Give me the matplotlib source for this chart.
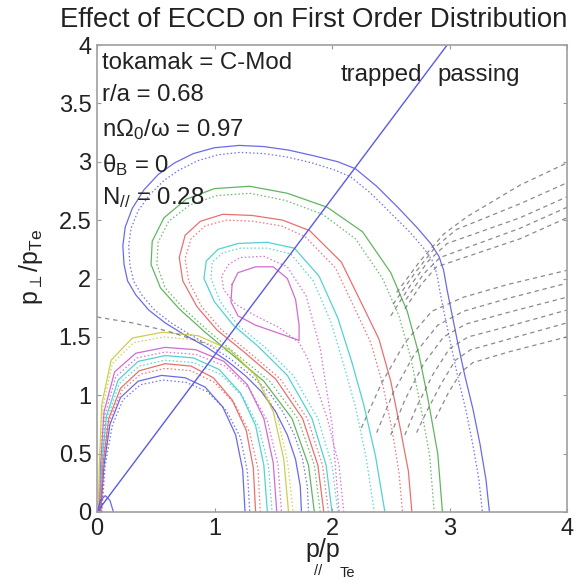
import matplotlib

matplotlib.use("Agg")

import matplotlib.pyplot as plt
import numpy as np

plt.rcParams["font.family"] = ["Liberation Sans", "DejaVu Sans"]
plt.rcParams["mathtext.fontset"] = "custom"
plt.rcParams["mathtext.rm"] = "Liberation Sans"
plt.rcParams["mathtext.default"] = "regular"

COLORS = {
    "b": "#5a5ae6",
    "g": "#4fae4f",
    "r": "#e66060",
    "c": "#40cccc",
    "m": "#cc5ccc",
    "y": "#c8c83c",
    "k": "#6e6e6e",
}

# trapped/passing boundary p_perp = 1.343 p_par
BOUNDARY_X = [0.0, 2.98]
BOUNDARY_Y = [0.0, 4.0]

# outer lobe, solid contours (foot on axis -> over the top -> foot on axis)
BLUE_ARCH_X = [1.74, 1.73, 1.69, 1.62, 1.52, 1.40, 1.26, 1.10, 0.92, 0.74, 0.58, 0.44, 0.33,
               0.26, 0.23, 0.22, 0.24, 0.30, 0.40, 0.52, 0.66, 0.82, 1.00, 1.21, 1.42, 1.63,
               1.85, 2.05, 2.20, 2.38, 2.56, 2.72, 2.84, 2.91, 2.95, 2.98, 3.02, 3.07, 3.13,
               3.20, 3.26, 3.31, 3.34]
BLUE_ARCH_Y = [0.00, 0.22, 0.45, 0.66, 0.86, 1.03, 1.17, 1.30, 1.42, 1.52, 1.62, 1.73, 1.86,
               1.98, 2.12, 2.28, 2.44, 2.60, 2.76, 2.89, 2.99, 3.07, 3.12, 3.14, 3.13, 3.10,
               3.05, 3.00, 2.94, 2.79, 2.61, 2.44, 2.30, 2.19, 2.07, 1.90, 1.70, 1.45, 1.17,
               0.88, 0.58, 0.28, 0.00]
GREEN_ARCH_X = [1.85, 1.80, 1.66, 1.42, 1.16, 0.92, 0.70, 0.54, 0.46, 0.47, 0.57, 0.76, 1.00,
                1.30, 1.62, 1.96, 2.26, 2.50, 2.64, 2.74, 2.82, 2.90, 2.94]
GREEN_ARCH_Y = [0.00, 0.40, 0.80, 1.12, 1.34, 1.54, 1.74, 1.92, 2.12, 2.32, 2.52, 2.68, 2.77,
                2.79, 2.73, 2.61, 2.40, 2.05, 1.72, 1.35, 0.95, 0.50, 0.00]
RED_ARCH_X = [1.93, 1.88, 1.75, 1.52, 1.24, 1.02, 0.85, 0.73, 0.70, 0.75, 0.88, 1.07, 1.32,
              1.58, 1.81, 2.08, 2.26, 2.40, 2.50, 2.58, 2.65, 2.68]
RED_ARCH_Y = [0.00, 0.40, 0.80, 1.14, 1.38, 1.56, 1.76, 1.98, 2.18, 2.37, 2.49, 2.55, 2.54,
              2.50, 2.41, 2.14, 1.77, 1.48, 1.12, 0.72, 0.35, 0.00]
CYAN_ARCH_X = [2.00, 1.95, 1.83, 1.62, 1.37, 1.16, 1.00, 0.91, 0.93, 1.03, 1.20, 1.45, 1.68,
               1.89, 2.05, 2.17, 2.27, 2.37, 2.45]
CYAN_ARCH_Y = [0.00, 0.40, 0.80, 1.17, 1.42, 1.60, 1.80, 2.00, 2.15, 2.25, 2.30, 2.31, 2.26,
               2.02, 1.66, 1.28, 0.92, 0.48, 0.00]
MAGENTA_LOOP_X = [1.15, 1.20, 1.35, 1.50, 1.62, 1.69, 1.72, 1.72, 1.55, 1.35, 1.20, 1.14, 1.15]
MAGENTA_LOOP_Y = [1.95, 2.05, 2.10, 2.10, 2.00, 1.82, 1.60, 1.47, 1.53, 1.60, 1.68, 1.80, 1.95]

# outer lobe, dotted companions
BLUE_ARCH_DOT_X = [1.80, 1.79, 1.75, 1.68, 1.58, 1.46, 1.31, 1.15, 0.97, 0.79, 0.63, 0.49, 0.38,
                   0.31, 0.28, 0.27, 0.29, 0.35, 0.45, 0.57, 0.70, 0.86, 1.03, 1.22, 1.42, 1.62,
                   1.83, 2.02, 2.16, 2.33, 2.50, 2.66, 2.78, 2.85, 2.89, 2.92, 2.96, 3.01, 3.07,
                   3.14, 3.20, 3.25, 3.28]
BLUE_ARCH_DOT_Y = [0.00, 0.22, 0.45, 0.66, 0.86, 1.03, 1.17, 1.30, 1.42, 1.52, 1.62, 1.73, 1.86,
                   1.98, 2.12, 2.28, 2.43, 2.58, 2.72, 2.84, 2.93, 3.01, 3.06, 3.08, 3.07, 3.04,
                   2.99, 2.93, 2.87, 2.73, 2.56, 2.40, 2.26, 2.16, 2.05, 1.88, 1.68, 1.44, 1.16,
                   0.87, 0.57, 0.28, 0.00]
GREEN_ARCH_DOT_X = [1.90, 1.85, 1.71, 1.47, 1.20, 0.96, 0.74, 0.58, 0.51, 0.52, 0.61, 0.79, 1.02,
                    1.30, 1.60, 1.92, 2.20, 2.43, 2.57, 2.67, 2.75, 2.83, 2.87]
GREEN_ARCH_DOT_Y = [0.00, 0.40, 0.80, 1.12, 1.34, 1.54, 1.74, 1.92, 2.12, 2.31, 2.49, 2.63, 2.71,
                    2.73, 2.67, 2.55, 2.34, 2.00, 1.68, 1.32, 0.93, 0.49, 0.00]
RED_ARCH_DOT_X = [1.97, 1.92, 1.79, 1.56, 1.28, 1.06, 0.89, 0.78, 0.75, 0.80, 0.92, 1.10, 1.33,
                  1.57, 1.77, 2.03, 2.20, 2.33, 2.43, 2.51, 2.57, 2.60]
RED_ARCH_DOT_Y = [0.00, 0.40, 0.80, 1.14, 1.38, 1.56, 1.76, 1.98, 2.17, 2.34, 2.45, 2.50, 2.49,
                  2.45, 2.36, 2.09, 1.73, 1.45, 1.10, 0.71, 0.34, 0.00]
CYAN_ARCH_DOT_X = [2.05, 2.00, 1.88, 1.67, 1.42, 1.20, 1.05, 0.97, 0.98, 1.07, 1.22, 1.45, 1.65,
                   1.84, 1.99, 2.10, 2.20, 2.29, 2.36]
CYAN_ARCH_DOT_Y = [0.00, 0.40, 0.80, 1.17, 1.42, 1.60, 1.80, 2.00, 2.14, 2.22, 2.26, 2.26, 2.21,
                   1.98, 1.63, 1.26, 0.90, 0.47, 0.00]
MAGENTA_ARCH_DOT_X = [2.10, 2.06, 1.96, 1.86, 1.80, 1.72, 1.55, 1.35, 1.18, 1.08, 1.06, 1.12,
                      1.22, 1.42, 1.62, 1.78, 1.90, 2.00, 2.06]
MAGENTA_ARCH_DOT_Y = [0.00, 0.40, 0.80, 1.10, 1.30, 1.45, 1.58, 1.68, 1.78, 1.90, 2.02, 2.12,
                      2.18, 2.19, 2.10, 1.85, 1.40, 0.75, 0.00]

# inner lobe near the origin, solid contours
INNER_BLUE_X = [0.03, 0.06, 0.11, 0.20, 0.35, 0.55, 0.75, 0.92, 1.07, 1.18, 1.24, 1.26]
INNER_BLUE_Y = [0.00, 0.40, 0.75, 0.98, 1.12, 1.17, 1.15, 1.07, 0.90, 0.66, 0.36, 0.00]
INNER_RED_X = [0.03, 0.05, 0.10, 0.20, 0.36, 0.58, 0.80, 0.99, 1.15, 1.27, 1.33, 1.35]
INNER_RED_Y = [0.00, 0.40, 0.80, 1.06, 1.21, 1.27, 1.25, 1.15, 0.96, 0.70, 0.38, 0.00]
INNER_CYAN_X = [0.02, 0.04, 0.08, 0.18, 0.35, 0.58, 0.82, 1.04, 1.22, 1.35, 1.42, 1.45]
INNER_CYAN_Y = [0.00, 0.40, 0.82, 1.13, 1.29, 1.34, 1.32, 1.22, 1.02, 0.74, 0.40, 0.00]
INNER_MAGENTA_X = [0.02, 0.03, 0.06, 0.15, 0.33, 0.58, 0.84, 1.08, 1.28, 1.42, 1.50, 1.53]
INNER_MAGENTA_Y = [0.00, 0.40, 0.86, 1.20, 1.36, 1.41, 1.39, 1.29, 1.09, 0.80, 0.42, 0.00]
INNER_YELLOW_X = [0.01, 0.02, 0.04, 0.12, 0.30, 0.56, 0.86, 1.13, 1.35, 1.50, 1.59, 1.63]
INNER_YELLOW_Y = [0.00, 0.40, 0.92, 1.30, 1.49, 1.54, 1.51, 1.39, 1.17, 0.86, 0.45, 0.00]

# inner lobe, dotted companions
INNER_BLUE_DOT_X = [0.04, 0.07, 0.13, 0.22, 0.37, 0.56, 0.76, 0.94, 1.10, 1.22, 1.28, 1.30]
INNER_BLUE_DOT_Y = [0.00, 0.40, 0.74, 0.96, 1.09, 1.13, 1.11, 1.03, 0.87, 0.64, 0.35, 0.00]
INNER_RED_DOT_X = [0.04, 0.06, 0.11, 0.21, 0.37, 0.58, 0.80, 1.00, 1.17, 1.30, 1.37, 1.39]
INNER_RED_DOT_Y = [0.00, 0.40, 0.79, 1.04, 1.18, 1.23, 1.21, 1.11, 0.93, 0.68, 0.37, 0.00]
INNER_CYAN_DOT_X = [0.03, 0.05, 0.09, 0.19, 0.36, 0.58, 0.82, 1.05, 1.24, 1.38, 1.46, 1.49]
INNER_CYAN_DOT_Y = [0.00, 0.40, 0.81, 1.10, 1.25, 1.30, 1.28, 1.18, 0.99, 0.72, 0.39, 0.00]
INNER_MAGENTA_DOT_X = [0.03, 0.04, 0.07, 0.16, 0.34, 0.58, 0.84, 1.09, 1.30, 1.45, 1.54, 1.57]
INNER_MAGENTA_DOT_Y = [0.00, 0.40, 0.84, 1.16, 1.32, 1.37, 1.35, 1.25, 1.05, 0.78, 0.41, 0.00]
INNER_YELLOW_DOT_X = [0.02, 0.03, 0.05, 0.13, 0.31, 0.57, 0.87, 1.15, 1.37, 1.53, 1.62, 1.67]
INNER_YELLOW_DOT_Y = [0.00, 0.40, 0.90, 1.27, 1.45, 1.50, 1.47, 1.36, 1.14, 0.84, 0.44, 0.00]

# small contour at the origin
ORIGIN_X = [0.00, 0.03, 0.07, 0.11, 0.14]
ORIGIN_Y = [0.00, 0.10, 0.14, 0.10, 0.00]

# black dashed contours in the passing region
DASH_UPPER = [
    ([2.55, 2.75, 2.95, 3.15, 3.60, 4.00], [1.88, 2.15, 2.38, 2.53, 2.80, 2.99]),
    ([2.52, 2.70, 2.88, 3.06, 3.60, 4.00], [1.78, 2.04, 2.27, 2.42, 2.64, 2.82]),
    ([2.50, 2.66, 2.82, 2.98, 3.60, 4.00], [1.68, 1.93, 2.15, 2.30, 2.52, 2.70]),
    ([2.63, 2.78, 2.92, 3.60, 4.00], [1.82, 2.04, 2.18, 2.43, 2.61]),
    ([2.62, 2.76, 2.89, 3.60, 4.00], [1.74, 1.95, 2.10, 2.34, 2.52]),
]
DASH_LOWER = [
    ([2.25, 2.42, 2.62, 2.85, 3.12, 3.50, 4.00], [0.72, 1.10, 1.45, 1.72, 1.84, 1.95, 2.07]),
    ([2.38, 2.52, 2.70, 2.90, 3.12, 3.50, 4.00], [0.68, 1.02, 1.35, 1.60, 1.72, 1.83, 1.96]),
    ([2.50, 2.62, 2.78, 2.95, 3.14, 3.50, 4.00], [0.66, 0.96, 1.27, 1.50, 1.61, 1.71, 1.84]),
    ([2.62, 2.72, 2.86, 3.00, 3.16, 3.50, 4.00], [0.66, 0.90, 1.18, 1.40, 1.50, 1.59, 1.73]),
    ([2.72, 2.80, 2.93, 3.05, 3.18, 3.50, 4.00], [0.68, 0.85, 1.10, 1.30, 1.39, 1.48, 1.62]),
    ([2.88, 2.99, 3.10, 3.20, 3.50, 4.00], [0.80, 1.02, 1.20, 1.28, 1.37, 1.50]),
]
DASH_LEFT_X = [0.00, 0.30, 0.60, 0.90]
DASH_LEFT_Y = [1.67, 1.62, 1.55, 1.45]

SOLID = [
    (BLUE_ARCH_X, BLUE_ARCH_Y, "b"),
    (GREEN_ARCH_X, GREEN_ARCH_Y, "g"),
    (RED_ARCH_X, RED_ARCH_Y, "r"),
    (CYAN_ARCH_X, CYAN_ARCH_Y, "c"),
    (MAGENTA_LOOP_X, MAGENTA_LOOP_Y, "m"),
    (INNER_BLUE_X, INNER_BLUE_Y, "b"),
    (INNER_RED_X, INNER_RED_Y, "r"),
    (INNER_CYAN_X, INNER_CYAN_Y, "c"),
    (INNER_MAGENTA_X, INNER_MAGENTA_Y, "m"),
    (INNER_YELLOW_X, INNER_YELLOW_Y, "y"),
    (ORIGIN_X, ORIGIN_Y, "b"),
]
DOTTED = [
    (BLUE_ARCH_DOT_X, BLUE_ARCH_DOT_Y, "b"),
    (GREEN_ARCH_DOT_X, GREEN_ARCH_DOT_Y, "g"),
    (RED_ARCH_DOT_X, RED_ARCH_DOT_Y, "r"),
    (CYAN_ARCH_DOT_X, CYAN_ARCH_DOT_Y, "c"),
    (MAGENTA_ARCH_DOT_X, MAGENTA_ARCH_DOT_Y, "m"),
    (INNER_BLUE_DOT_X, INNER_BLUE_DOT_Y, "b"),
    (INNER_RED_DOT_X, INNER_RED_DOT_Y, "r"),
    (INNER_CYAN_DOT_X, INNER_CYAN_DOT_Y, "c"),
    (INNER_MAGENTA_DOT_X, INNER_MAGENTA_DOT_Y, "m"),
    (INNER_YELLOW_DOT_X, INNER_YELLOW_DOT_Y, "y"),
]

PARAMETERS = [
    "tokamak = C-Mod",
    "r/a = 0.68",
    "n$\\Omega_0$/$\\omega$ = 0.97",
    "$\\theta_B$ = 0",
    "N$_{//}$ = 0.28",
]
PARAMETER_Y = [3.85, 3.57, 3.28, 2.97, 2.69]

fig = plt.figure(figsize=(5.77, 5.81), dpi=100)
ax = fig.add_axes([97 / 577, (581 - 512) / 581, 470 / 577, 467 / 581])

for xs, ys, key in DOTTED:
    ax.plot(xs, ys, color=COLORS[key], lw=0.9, linestyle=(0, (1.2, 1.8)), alpha=0.85)
for xs, ys, key in SOLID:
    ax.plot(xs, ys, color=COLORS[key], lw=0.9, alpha=0.9)
for xs, ys in DASH_UPPER + DASH_LOWER:
    ax.plot(xs, ys, color=COLORS["k"], lw=0.9, linestyle=(0, (3.5, 3.0)), alpha=0.8)
ax.plot(DASH_LEFT_X, DASH_LEFT_Y, color=COLORS["k"], lw=0.9, linestyle=(0, (3.5, 3.0)), alpha=0.8)
ax.plot(BOUNDARY_X, BOUNDARY_Y, color=COLORS["b"], lw=1.0)

for label, y in zip(PARAMETERS, PARAMETER_Y):
    ax.text(0.04, y, label, fontsize=17.3, va="center", ha="left", color="#222222")
ax.text(2.07, 3.74, "trapped", fontsize=17.3, va="center", ha="left", color="#222222")
ax.text(2.90, 3.74, "passing", fontsize=17.3, va="center", ha="left", color="#222222")

ax.set_xlim(0, 4)
ax.set_ylim(0, 4)
ax.set_xticks([0, 1, 2, 3, 4])
ax.set_yticks(np.arange(0, 4.01, 0.5))
ax.set_yticklabels(["0", "0.5", "1", "1.5", "2", "2.5", "3", "3.5", "4"])
ax.tick_params(direction="in", length=3, labelsize=17, colors="#999999",
               labelcolor="#222222", top=True, right=True, pad=4)
for spine in ax.spines.values():
    spine.set_color("#a0a0a0")
    spine.set_linewidth(1.2)

fig.text(314 / 577, 1 - 20 / 581, "Effect of ECCD on First Order Distribution",
         fontsize=19.8, ha="center", va="center", color="#222222")
fig.text(323 / 577, 1 - 550 / 581, "p/p", fontsize=18, ha="center", va="center", color="#222222")
fig.text(318 / 577, 1 - 571 / 581, "//", fontsize=10.5, ha="center", va="center", color="#222222")
fig.text(347 / 577, 1 - 573 / 581, "Te", fontsize=10.5, ha="center", va="center", color="#222222")
fig.text(31 / 577, 1 - 267 / 581, "p$_{\\perp}$/p$_{Te}$", fontsize=18, rotation=90,
         ha="center", va="center", color="#222222")

fig.savefig("out.png", dpi=100, facecolor="white")
